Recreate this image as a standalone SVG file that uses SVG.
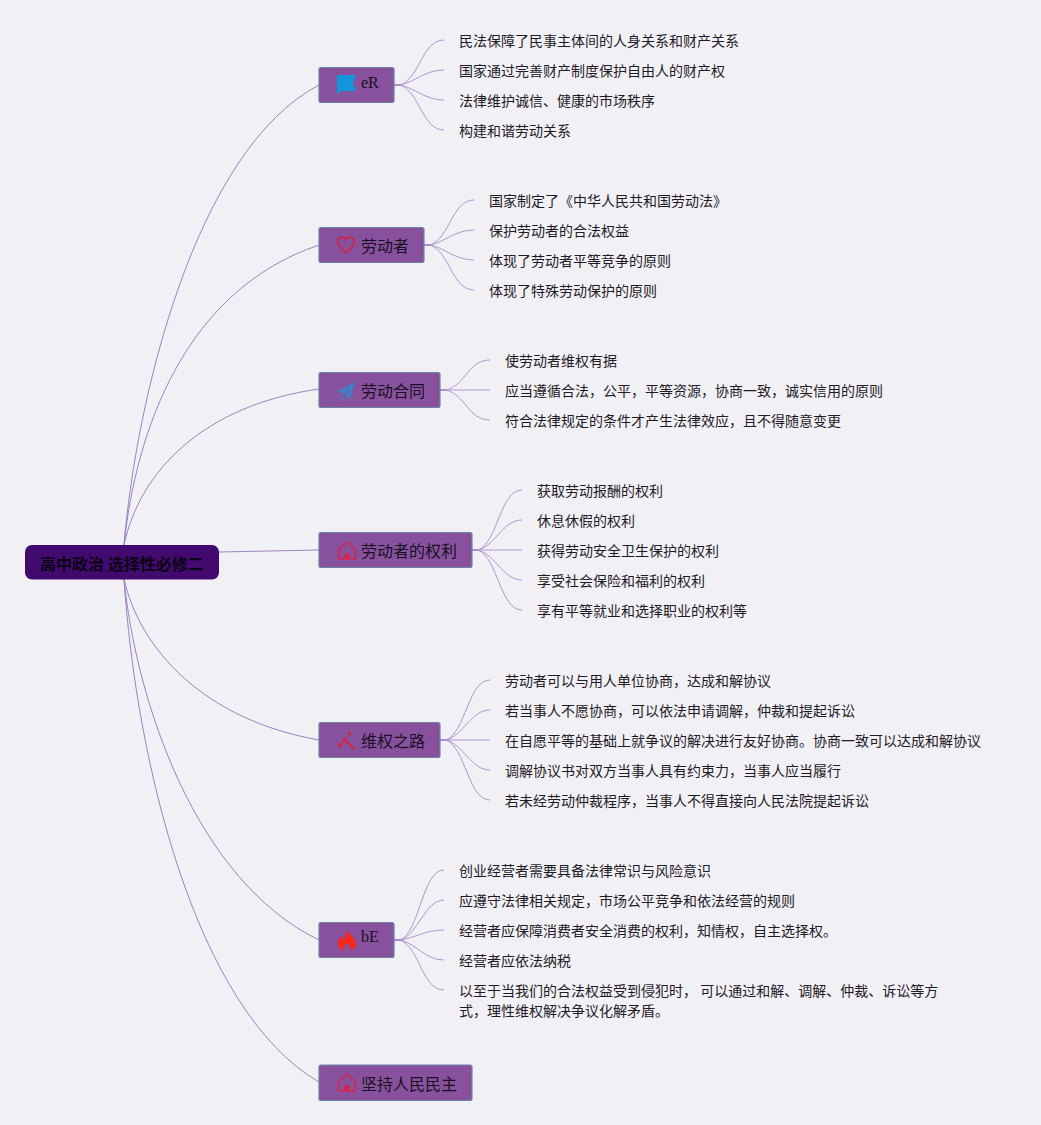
<svg xmlns="http://www.w3.org/2000/svg" width="1041" height="1125" viewBox="0 0 1041 1125">
<style>
text{font-family:"Noto Sans CJK SC","Liberation Serif",sans-serif;fill:#1f1a26}
.leaf{font-size:14px}
.n{font-size:16px;fill:#17101f}
.lat{font-family:"Liberation Serif",serif}
.root{font-size:16px;font-weight:700;fill:#0c0414}
.box{fill:#88519e;stroke:#6a84a2;stroke-width:1.2}
.c{fill:none;stroke:#9a83bf;stroke-width:1}
.l{fill:none;stroke:#ad97cf;stroke-width:1}
.s{fill:none;stroke:#a78fca;stroke-width:2}
</style>
<defs>
<g id="house"><path d="M1 9 L9.500 1 L18 9 V18 H1 Z" fill="none" stroke="#d2264f" stroke-width="1.600" stroke-linejoin="round"/><path d="M6.500 18 V13.500 Q9.500 10 12.500 13.500 V18 Z" fill="#d2264f"/></g>
</defs>
<rect width="1041" height="1125" fill="#f1f0f4"/>
<g id="connectors">
<path class="c" d="M124 545C136 400 195 150 319 85"/>
<path class="c" d="M124 545C136 430 185 290 319 245"/>
<path class="c" d="M124 545C140 470 205 405 319 389"/>
<path class="c" d="M219 552L319 550"/>
<path class="c" d="M124 579C140 650 205 720 319 740"/>
<path class="c" d="M124 579C136 700 195 880 319 940"/>
<path class="c" d="M124 579C136 760 195 1010 319 1082"/>
<path class="s" d="M394 85H400M424 245H430M440 390H446M472 550H478M440 740H446M394 940H400"/>
<path class="l" d="M400 85C420 78 422 40 444 40M400 85C415 82 425 70 444 70M400 85C415 88 425 100 444 100M400 85C420 92 422 130 444 130"/>
<path class="l" d="M430 245C450 238 452 200 474 200M430 245C445 242 455 230 474 230M430 245C445 248 455 260 474 260M430 245C450 252 452 290 474 290"/>
<path class="l" d="M446 390C466 385 468 360 490 360M446 390H490M446 390C466 395 468 420 490 420"/>
<path class="l" d="M478 550C498 542 500 490 522 490M478 550C495 546 503 520 522 520M478 550H522M478 550C495 554 503 580 522 580M478 550C498 558 500 610 522 610"/>
<path class="l" d="M446 740C466 732 468 680 490 680M446 740C463 736 471 710 490 710M446 740H490M446 740C463 744 471 770 490 770M446 740C466 748 468 800 490 800"/>
<path class="l" d="M400 940C420 932 422 870 444 870M400 940C417 936 425 900 444 900M400 940C415 938 425 930 444 930M400 940C417 944 425 960 444 960M400 940C420 948 422 990 444 990"/>
</g>
<g id="root"><rect x="25" y="545" width="194" height="34.500" rx="7" fill="#42096f"/><text class="root" x="40" y="570">高中政治 选择性必修二</text></g>
<g id="node1"><rect class="box" x="319" y="67.500" width="75" height="35" rx="2"/><path d="M337 75H356L353 83L356 91H341L337 95Z" fill="#1296db"/><text class="n lat" x="361" y="88">eR</text></g>
<g id="node2"><rect class="box" x="319" y="227.500" width="105" height="35" rx="2"/><path d="M346 253L339 245.500C335.500 240.500 340 236 344 237.500Q345.500 238 346 240Q346.500 238 348 237.500C352 236 356.500 240.500 353 245.500Z" fill="none" stroke="#d0263f" stroke-width="1.600"/><text class="n" x="361" y="252">劳动者</text></g>
<g id="node3"><rect class="box" x="319" y="372.500" width="121" height="35" rx="2"/><path d="M355 382L338 391L343 394.500L351 387L345 396L350 399Z" fill="#3d7fc9"/><path d="M343 396L342 400" stroke="#3d7fc9" stroke-width="1.500"/><text class="n" x="361" y="397">劳动合同</text></g>
<g id="node4"><rect class="box" x="319" y="532.500" width="153" height="35" rx="2"/><use href="#house" x="337.500" y="541"/><text class="n" x="361" y="557">劳动者的权利</text></g>
<g id="node5"><rect class="box" x="319" y="722.500" width="121" height="35" rx="2"/><path d="M343 738L354 749M342 743L347 738" stroke="#d2263f" stroke-width="1.800" fill="none"/><circle cx="340" cy="745" r="2.200" fill="#d2263f"/><circle cx="349.500" cy="733.500" r="1.800" fill="#d2263f"/><text class="n" x="361" y="747">维权之路</text></g>
<g id="node6"><rect class="box" x="319" y="922.500" width="75" height="35" rx="2"/><path d="M347 930C349 935 356 938 356 944C356 948 353 950 350 950C351 947 349 945 347 943.500C345 945 343 947 344 950C341 950 338 948 338 943C338 940 340 938 341 936C342 938 343 939 344 939C346 936 346 933 347 930Z" fill="#f5281c"/><text class="n lat" x="361" y="942">bE</text></g>
<g id="node7"><rect class="box" x="319" y="1065" width="153" height="35.500" rx="2"/><use href="#house" x="337.500" y="1073"/><text class="n" x="361" y="1089.500">坚持人民民主</text></g>
<g id="leaves">
<text class="leaf" x="459" y="46">民法保障了民事主体间的人身关系和财产关系</text>
<text class="leaf" x="459" y="76">国家通过完善财产制度保护自由人的财产权</text>
<text class="leaf" x="459" y="106">法律维护诚信、健康的市场秩序</text>
<text class="leaf" x="459" y="136">构建和谐劳动关系</text>
<text class="leaf" x="489" y="206">国家制定了《中华人民共和国劳动法》</text>
<text class="leaf" x="489" y="236">保护劳动者的合法权益</text>
<text class="leaf" x="489" y="266">体现了劳动者平等竞争的原则</text>
<text class="leaf" x="489" y="296">体现了特殊劳动保护的原则</text>
<text class="leaf" x="505" y="366">使劳动者维权有据</text>
<text class="leaf" x="505" y="396">应当遵循合法，公平，平等资源，协商一致，诚实信用的原则</text>
<text class="leaf" x="505" y="426">符合法律规定的条件才产生法律效应，且不得随意变更</text>
<text class="leaf" x="537" y="496">获取劳动报酬的权利</text>
<text class="leaf" x="537" y="526">休息休假的权利</text>
<text class="leaf" x="537" y="556">获得劳动安全卫生保护的权利</text>
<text class="leaf" x="537" y="586">享受社会保险和福利的权利</text>
<text class="leaf" x="537" y="616">享有平等就业和选择职业的权利等</text>
<text class="leaf" x="505" y="686">劳动者可以与用人单位协商，达成和解协议</text>
<text class="leaf" x="505" y="716">若当事人不愿协商，可以依法申请调解，仲裁和提起诉讼</text>
<text class="leaf" x="505" y="746">在自愿平等的基础上就争议的解决进行友好协商。协商一致可以达成和解协议</text>
<text class="leaf" x="505" y="776">调解协议书对双方当事人具有约束力，当事人应当履行</text>
<text class="leaf" x="505" y="806">若未经劳动仲裁程序，当事人不得直接向人民法院提起诉讼</text>
<text class="leaf" x="459" y="876">创业经营者需要具备法律常识与风险意识</text>
<text class="leaf" x="459" y="906">应遵守法律相关规定，市场公平竞争和依法经营的规则</text>
<text class="leaf" x="459" y="936">经营者应保障消费者安全消费的权利，知情权，自主选择权。</text>
<text class="leaf" x="459" y="966">经营者应依法纳税</text>
<text class="leaf" x="459" y="996">以至于当我们的合法权益受到侵犯时， 可以通过和解、调解、仲裁、诉讼等方</text>
<text class="leaf" x="459" y="1016">式，理性维权解决争议化解矛盾。</text>
</g>
</svg>
